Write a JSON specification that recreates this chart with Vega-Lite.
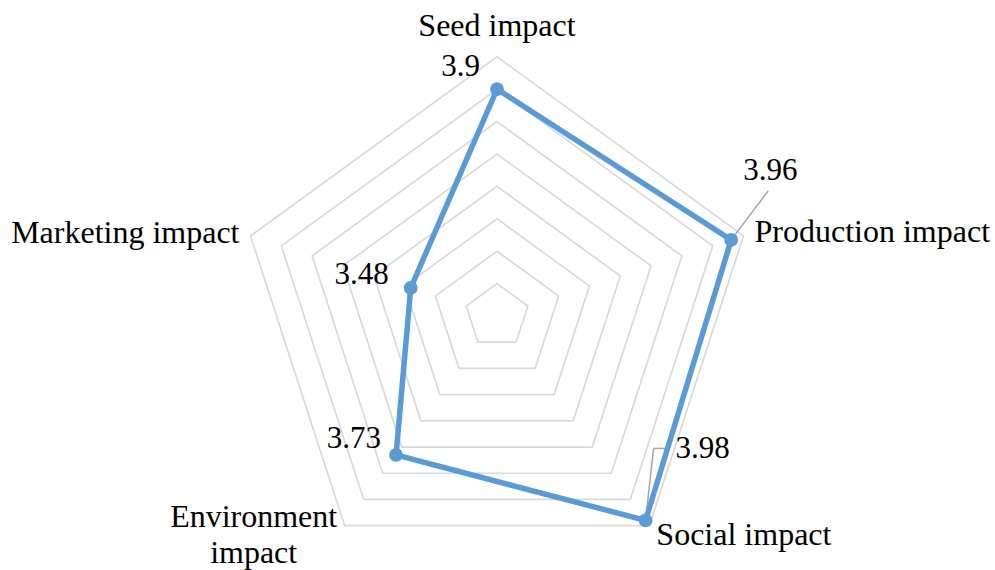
{
  "$schema": "https://vega.github.io/schema/vega-lite/v6.json",
  "width": 995,
  "height": 570,
  "autosize": "none",
  "padding": 0,
  "background": "white",
  "config": {"view": {"stroke": null}, "text": {"font": "Liberation Serif", "color": "#000000"}},
  "datasets": {
    "scores": [
      {"category": "Seed impact", "order": 0, "value": 3.9},
      {"category": "Production impact", "order": 1, "value": 3.96},
      {"category": "Social impact", "order": 2, "value": 3.98},
      {"category": "Environment impact", "order": 3, "value": 3.73},
      {"category": "Marketing impact", "order": 4, "value": 3.48}
    ],
    "grid": [
      {"order": 0, "level": 3.3}, {"order": 1, "level": 3.3}, {"order": 2, "level": 3.3}, {"order": 3, "level": 3.3}, {"order": 4, "level": 3.3},
      {"order": 0, "level": 3.4}, {"order": 1, "level": 3.4}, {"order": 2, "level": 3.4}, {"order": 3, "level": 3.4}, {"order": 4, "level": 3.4},
      {"order": 0, "level": 3.5}, {"order": 1, "level": 3.5}, {"order": 2, "level": 3.5}, {"order": 3, "level": 3.5}, {"order": 4, "level": 3.5},
      {"order": 0, "level": 3.6}, {"order": 1, "level": 3.6}, {"order": 2, "level": 3.6}, {"order": 3, "level": 3.6}, {"order": 4, "level": 3.6},
      {"order": 0, "level": 3.7}, {"order": 1, "level": 3.7}, {"order": 2, "level": 3.7}, {"order": 3, "level": 3.7}, {"order": 4, "level": 3.7},
      {"order": 0, "level": 3.8}, {"order": 1, "level": 3.8}, {"order": 2, "level": 3.8}, {"order": 3, "level": 3.8}, {"order": 4, "level": 3.8},
      {"order": 0, "level": 3.9}, {"order": 1, "level": 3.9}, {"order": 2, "level": 3.9}, {"order": 3, "level": 3.9}, {"order": 4, "level": 3.9},
      {"order": 0, "level": 4.0}, {"order": 1, "level": 4.0}, {"order": 2, "level": 4.0}, {"order": 3, "level": 4.0}, {"order": 4, "level": 4.0}
    ]
  },
  "encoding": {
    "x": {"field": "px", "type": "quantitative", "scale": {"domain": [-1.534, 1.537], "nice": false, "zero": false}, "axis": null},
    "y": {"field": "py", "type": "quantitative", "scale": {"domain": [-0.784, 0.9753], "nice": false, "zero": false}, "axis": null}
  },
  "layer": [
    {
      "data": {"name": "grid"},
      "transform": [
        {"calculate": "datum.order*2*PI/5", "as": "angle"},
        {"calculate": "(datum.level-3.2)*sin(datum.angle)", "as": "px"},
        {"calculate": "(datum.level-3.2)*cos(datum.angle)", "as": "py"}
      ],
      "mark": {"type": "line", "interpolate": "linear-closed", "color": "#d9d9d9", "strokeWidth": 1.7},
      "encoding": {"detail": {"field": "level", "type": "nominal"}, "order": {"field": "order", "type": "quantitative"}}
    },
    {
      "data": {"name": "scores"},
      "transform": [
        {"calculate": "datum.order*2*PI/5", "as": "angle"},
        {"calculate": "(datum.value-3.2)*sin(datum.angle)", "as": "px"},
        {"calculate": "(datum.value-3.2)*cos(datum.angle)", "as": "py"}
      ],
      "layer": [
        {
          "transform": [{"filter": "datum.category === 'Production impact'"}],
          "mark": {"type": "rule", "color": "#a6a6a6", "strokeWidth": 1.5, "x2Offset": 37, "y2Offset": -49},
          "encoding": {"x2": {"field": "px"}, "y2": {"field": "py"}}
        },
        {
          "transform": [{"filter": "datum.category === 'Social impact'"}],
          "mark": {"type": "rule", "color": "#a6a6a6", "strokeWidth": 1.5, "x2Offset": 8, "y2Offset": -72},
          "encoding": {"x2": {"field": "px"}, "y2": {"field": "py"}}
        },
        {
          "transform": [{"filter": "datum.category === 'Social impact'"}],
          "mark": {"type": "rule", "color": "#a6a6a6", "strokeWidth": 1.5, "xOffset": 8, "yOffset": -72, "x2Offset": 20, "y2Offset": -72},
          "encoding": {"x2": {"field": "px"}, "y2": {"field": "py"}}
        },
        {
          "mark": {"type": "line", "interpolate": "linear-closed", "color": "#5b9bd5", "strokeWidth": 5.5},
          "encoding": {"order": {"field": "order", "type": "quantitative"}}
        },
        {
          "mark": {"type": "circle", "color": "#5b9bd5", "opacity": 1, "size": 190},
          "encoding": {}
        },
        {
          "transform": [{"filter": "datum.category === 'Seed impact'"}],
          "mark": {"type": "text", "fontSize": 31, "align": "right", "baseline": "alphabetic", "dx": -17, "dy": -13},
          "encoding": {"text": {"field": "value", "type": "quantitative"}}
        },
        {
          "transform": [{"filter": "datum.category === 'Production impact'"}],
          "mark": {"type": "text", "fontSize": 31, "align": "left", "baseline": "alphabetic", "dx": 12, "dy": -60},
          "encoding": {"text": {"field": "value", "type": "quantitative"}}
        },
        {
          "transform": [{"filter": "datum.category === 'Social impact'"}],
          "mark": {"type": "text", "fontSize": 31, "align": "left", "baseline": "alphabetic", "dx": 30, "dy": -62},
          "encoding": {"text": {"field": "value", "type": "quantitative"}}
        },
        {
          "transform": [{"filter": "datum.category === 'Environment impact'"}],
          "mark": {"type": "text", "fontSize": 31, "align": "right", "baseline": "alphabetic", "dx": -15, "dy": -7},
          "encoding": {"text": {"field": "value", "type": "quantitative"}}
        },
        {
          "transform": [{"filter": "datum.category === 'Marketing impact'"}],
          "mark": {"type": "text", "fontSize": 31, "align": "right", "baseline": "alphabetic", "dx": -22, "dy": -4},
          "encoding": {"text": {"field": "value", "type": "quantitative"}}
        }
      ]
    },
    {
      "data": {"name": "scores"},
      "transform": [
        {"calculate": "datum.order*2*PI/5", "as": "angle"},
        {"calculate": "(4.0-3.2)*sin(datum.angle)", "as": "px"},
        {"calculate": "(4.0-3.2)*cos(datum.angle)", "as": "py"}
      ],
      "layer": [
        {
          "transform": [{"filter": "datum.category === 'Seed impact'"}],
          "mark": {"type": "text", "fontSize": 32, "align": "center", "baseline": "alphabetic", "dx": 0, "dy": -21},
          "encoding": {"text": {"field": "category"}}
        },
        {
          "transform": [{"filter": "datum.category === 'Production impact'"}],
          "mark": {"type": "text", "fontSize": 32, "align": "left", "baseline": "alphabetic", "dx": 11, "dy": 6},
          "encoding": {"text": {"field": "category"}}
        },
        {
          "transform": [{"filter": "datum.category === 'Social impact'"}],
          "mark": {"type": "text", "fontSize": 32, "align": "left", "baseline": "alphabetic", "dx": 7, "dy": 19},
          "encoding": {"text": {"field": "category"}}
        },
        {
          "transform": [{"filter": "datum.category === 'Environment impact'"}],
          "mark": {"type": "text", "fontSize": 32, "align": "center", "baseline": "alphabetic", "dx": -91, "dy": 1, "lineBreak": " ", "lineHeight": 36},
          "encoding": {"text": {"field": "category"}}
        },
        {
          "transform": [{"filter": "datum.category === 'Marketing impact'"}],
          "mark": {"type": "text", "fontSize": 32, "align": "right", "baseline": "alphabetic", "dx": -11, "dy": 7},
          "encoding": {"text": {"field": "category"}}
        }
      ]
    }
  ]
}
